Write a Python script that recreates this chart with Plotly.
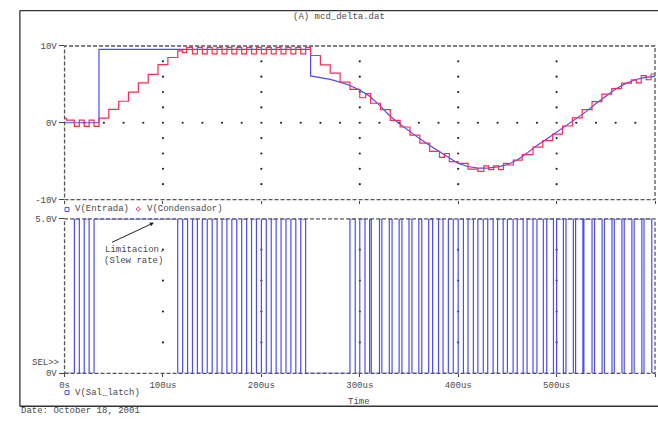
import plotly.graph_objects as go
import numpy as np

# ---------------- data ----------------
# V(Entrada): input signal, time in us, volts
blue_t = [0, 35, 35, 250, 250, 260, 270, 280, 290, 300, 310, 320, 330, 340, 350, 360,
          370, 380, 390, 400, 410, 420, 430, 440, 450, 460, 470, 480, 490, 500, 510,
          520, 530, 540, 550, 560, 570, 580, 590, 600]
blue_v = [0, 0, 9.55, 9.55, 6.1, 5.9, 5.65, 5.3, 4.85, 4.25, 3.45, 2.3, 0.95, -0.1,
          -1.1, -2.0, -2.85, -3.7, -4.55, -5.3, -5.7, -5.9, -5.9, -5.75, -5.45,
          -4.85, -3.95, -2.95, -2.1, -1.2, -0.4, 0.55, 1.45, 2.5, 3.4, 4.4, 5.1,
          5.6, 5.9, 6.05]

# V(Condensador): staircase, value holds from each time onward
red_t = [0, 2, 10, 15, 20, 25, 30, 35, 45, 55, 65, 75, 85, 95, 105, 115, 120, 124,
         130, 135, 140, 145, 150, 155, 160, 165, 170, 175, 180, 185, 190, 195, 200,
         205, 210, 215, 220, 225, 230, 235, 240, 245, 250, 260, 270, 280, 290, 300,
         306, 311, 321, 331, 341, 351, 361, 371, 381, 386, 391, 400, 410, 420, 426,
         431, 436, 441, 446, 451, 456, 465, 476, 486, 496, 506, 516, 526, 536, 546,
         556, 566, 576, 581, 586, 591, 596, 600]
red_v = [0.56, 0.34, -0.46, 0.35, -0.46, 0.35, -0.46, 0.6, 1.74, 2.8, 3.98, 5.2, 6.3,
         7.58, 8.5, 9.35, 9.15, 9.82, 8.97, 9.82, 8.97, 9.82, 8.97, 9.82, 8.97, 9.82,
         8.97, 9.82, 8.97, 9.82, 8.97, 9.82, 8.97, 9.82, 8.97, 9.82, 8.97, 9.82, 8.97,
         9.82, 8.97, 9.82, 8.76, 7.53, 6.47, 5.29, 4.36, 3.26, 3.8, 2.54, 1.7, 0.3,
         -0.55, -1.6, -2.66, -3.72, -4.5, -4.0, -5.07, -5.28, -6.04, -6.34, -5.62,
         -6.1, -5.6, -6.1, -5.3, -5.5, -4.86, -4.14, -3.17, -2.32, -1.47, -0.42, 0.63,
         1.7, 2.75, 3.73, 4.44, 5.16, 5.58, 5.2, 6.14, 5.6, 6.35, 6.35]

# V(Sal_latch): pulse rise / fall times (us), high level 5 V
latch_rise = [10, 20, 30, 120, 130, 140, 150, 160, 170, 180, 190, 200, 210, 220, 230,
              240, 290, 300, 310, 320, 330, 340, 350, 360, 370, 380, 390, 400, 410,
              420, 430, 440, 450, 460, 470, 480, 490, 500, 509.5, 519.3, 527.7, 538.5,
              548.5, 558.6, 568.7, 578.8, 588.8]
latch_fall = [15, 25, 115, 125, 135, 145, 155, 165, 175, 185, 195, 205, 215, 225, 235,
              245, 295.4, 305.3, 311.7, 322.4, 332.8, 342.8, 353, 363, 374, 384.6, 395,
              405.3, 415.4, 425.5, 435.5, 445.7, 455.8, 466, 476, 486.5, 496.8, 506.9,
              517, 526.7, 536, 546.2, 556.3, 566.4, 576.5, 586.6, 596.7]
latch_high = 5.0

x_ticks = [0, 100, 200, 300, 400, 500, 600]
x_labels = ["0s", "100us", "200us", "300us", "400us", "500us", "600us"]
y1_ticks = [-10, 0, 10]
y1_labels = ["-10V", "0V", "10V"]
y2_ticks = [0, 5]
y2_labels = ["0V", "5.0V"]

# ---------------- layout helpers ----------------
W, H = 658, 422
def px(x):
    return x / W
def py(y):
    return 1 - y / H

XL, XR = 60, 655
Y1T, Y1B = 43, 200.3
Y2T, Y2B = 220, 378.3

FONT = "Liberation Mono, Courier New, monospace"
TXT = "#4a4a4a"
BLUE = "#4b4bff"
RED = "#ff2a55"

fig = go.Figure()

# grid dots (decorative) derived from ticks
gx, gy = [], []
for xv in x_ticks[1:-1]:
    for yv in np.arange(-8, 9, 2):
        gx.append(xv); gy.append(yv)
for xv in np.arange(20, 600, 20):
    if xv % 100 != 0:
        gx.append(xv); gy.append(0)
fig.add_trace(go.Scatter(x=gx, y=gy, mode="markers", xaxis="x", yaxis="y",
                         marker=dict(size=2.2, color="#222"), hoverinfo="skip",
                         showlegend=False))
gx2, gy2 = [], []
for xv in x_ticks[1:-1]:
    for yv in [1, 2, 3, 4]:
        gx2.append(xv); gy2.append(yv)
fig.add_trace(go.Scatter(x=gx2, y=gy2, mode="markers", xaxis="x2", yaxis="y2",
                         marker=dict(size=2.2, color="#222"), hoverinfo="skip",
                         showlegend=False))

# traces
fig.add_trace(go.Scatter(x=blue_t, y=blue_v, mode="lines", xaxis="x", yaxis="y",
                         line=dict(color=BLUE, width=1.2), showlegend=False))
fig.add_trace(go.Scatter(x=red_t, y=red_v, mode="lines", xaxis="x", yaxis="y",
                         line=dict(color=RED, width=1.2, shape="hv"), showlegend=False))

lx, ly = [0], [0]
for r, f in zip(latch_rise, latch_fall):
    lx += [r, r, f, f]
    ly += [0, latch_high, latch_high, 0]
lx.append(600); ly.append(0)
fig.add_trace(go.Scatter(x=lx, y=ly, mode="lines", xaxis="x2", yaxis="y2",
                         line=dict(color=BLUE, width=1.2), showlegend=False))

axfont = dict(family=FONT, size=9, color=TXT)
common_x = dict(range=[0, 600], showgrid=False, zeroline=False, showline=False,
                ticks="outside", ticklen=3, tickcolor="#444", tickvals=x_ticks,
                domain=[px(XL), px(XR)], tickfont=axfont)

shapes = []
# dashed plot frames
for (t, b) in [(Y1T, Y1B), (Y2T, Y2B)]:
    shapes.append(dict(type="rect", xref="paper", yref="paper",
                       x0=px(XL), x1=px(XR), y0=py(b), y1=py(t),
                       line=dict(color="#555", width=1.3, dash="4px,2px")))
# outer frame
shapes.append(dict(type="line", xref="paper", yref="paper", x0=px(15), x1=1,
                   y0=py(6.7), y1=py(6.7), line=dict(color="#333", width=1.3)))
shapes.append(dict(type="line", xref="paper", yref="paper", x0=px(15), x1=1,
                   y0=py(412), y1=py(412), line=dict(color="#333", width=1.3)))
shapes.append(dict(type="line", xref="paper", yref="paper", x0=px(15), x1=px(15),
                   y0=py(412), y1=py(6.7), line=dict(color="#333", width=1.3)))
# legend markers
shapes.append(dict(type="rect", xref="paper", yref="paper", x0=px(60.5), x1=px(64.5),
                   y0=py(212.5), y1=py(208.5), line=dict(color=BLUE, width=1)))
shapes.append(dict(type="path", xref="paper", yref="paper",
                   path=f"M {px(134.3)} {py(207.8)} L {px(136.5)} {py(210)} L {px(134.3)} {py(212.2)} L {px(132.1)} {py(210)} Z",
                   line=dict(color=RED, width=1)))
shapes.append(dict(type="rect", xref="paper", yref="paper", x0=px(60.5), x1=px(64.5),
                   y0=py(400), y1=py(396), line=dict(color=BLUE, width=1)))

def txt(x, y, s, anchor="left", size=9):
    return dict(x=px(x), y=py(y), xref="paper", yref="paper", text=s, showarrow=False,
                xanchor=anchor, yanchor="middle", font=dict(family=FONT, size=size, color=TXT))

annotations = [
    txt(337, 13.5, "(A) mcd_delta.dat", "center"),
    txt(69, 210, "V(Entrada)"),
    txt(141, 210, "V(Condensador)"),
    txt(69, 398, "V(Sal_latch)"),
    txt(357, 408, "Time", "center"),
    txt(14, 417, "Date: October 18, 2001"),
    txt(56, 368, "SEL>>", "right"),
    txt(130, 252, "Limitacion.", "center"),
    txt(129, 263, "(Slew rate)", "center"),
    dict(x=px(150), y=py(224), ax=-43.3, ay=20.3, xref="paper", yref="paper",
         axref="pixel", ayref="pixel", showarrow=True, arrowhead=2, arrowsize=0.8,
         arrowwidth=1, arrowcolor="#222", text=""),
]

fig.update_layout(
    width=W, height=H, margin=dict(l=0, r=0, t=0, b=0, pad=0),
    paper_bgcolor="white", plot_bgcolor="white",
    xaxis=dict(common_x, anchor="y", showticklabels=False),
    yaxis=dict(range=[-10, 10], domain=[py(Y1B), py(Y1T)], showgrid=False,
               zeroline=False, showline=False, tickvals=y1_ticks, ticktext=y1_labels,
               ticks="outside", ticklen=5, tickcolor="#444", tickfont=axfont, anchor="x"),
    xaxis2=dict(common_x, anchor="y2", ticktext=x_labels, matches="x"),
    yaxis2=dict(range=[0, 5], domain=[py(Y2B), py(Y2T)], showgrid=False,
                zeroline=False, showline=False, tickvals=y2_ticks, ticktext=y2_labels,
                ticks="outside", ticklen=5, tickcolor="#444", tickfont=axfont, anchor="x2"),
    shapes=shapes, annotations=annotations, showlegend=False,
)

post = "document.body.style.margin='0';document.body.style.padding='0';"

fig.write_html("out.html", config={"displayModeBar": False}, post_script=post)
